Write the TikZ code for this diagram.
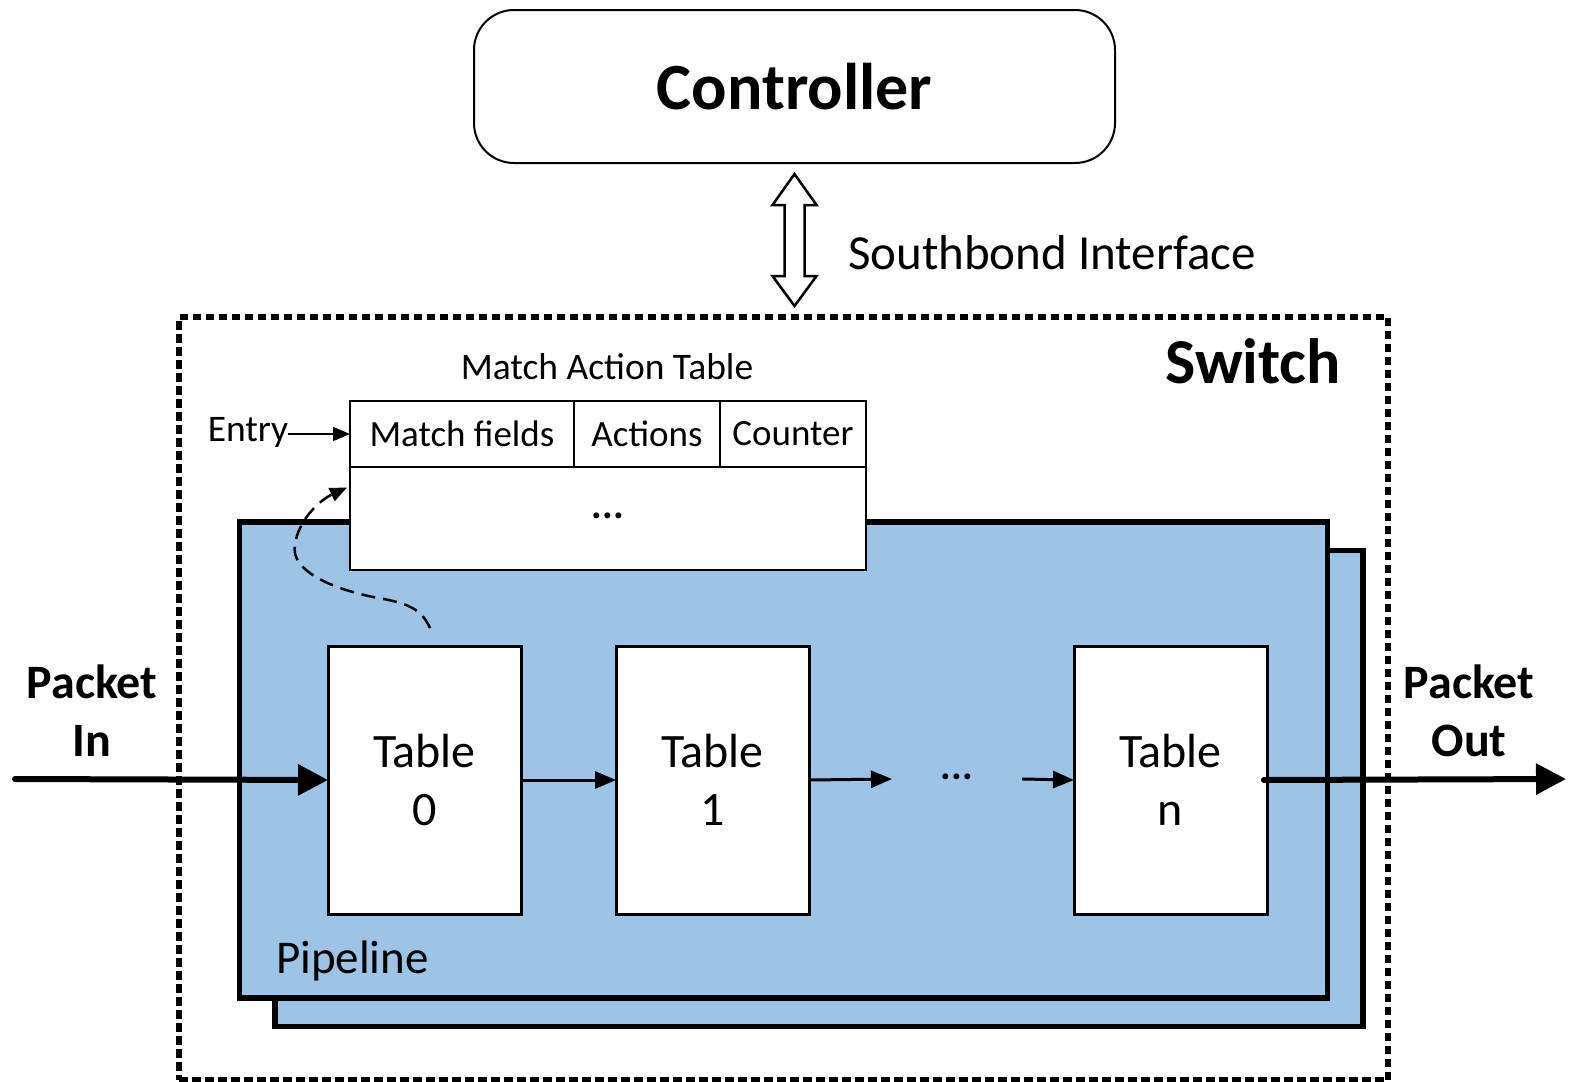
\documentclass[tikz,border=0pt]{standalone}
\usepackage{fontspec}
\setmainfont{Carlito}
\usetikzlibrary{arrows.meta,calc}

\definecolor{pipeblue}{HTML}{9DC3E6}

\begin{document}
\begin{tikzpicture}[x=1pt,y=-1pt,
  every node/.style={inner sep=0pt, outer sep=0pt},
  ctrlbox/.style={draw, line width=2pt, rounded corners=40pt, minimum width=641pt,
    minimum height=153pt, font=\fontsize{66}{80}\selectfont\bfseries},
  switchbox/.style={draw, line width=5.5pt, dash pattern=on 8.5pt off 4.5pt,
    minimum width=1209pt, minimum height=763pt},
  pipebox/.style={draw, fill=pipeblue, line width=5.5pt, minimum width=1088pt,
    minimum height=476pt},
  tablebox/.style={draw, fill=white, line width=3pt, minimum width=193pt,
    minimum height=268pt, align=center, font=\fontsize{48}{58}\selectfont},
  cell/.style={draw, fill=white, line width=2pt, font=\fontsize{37}{44}\selectfont},
  small/.style={font=\fontsize{37.5}{45}\selectfont},
  bigtext/.style={font=\fontsize{48}{58}\selectfont\bfseries, align=center},
  flow/.style={line width=3pt, -{Triangle[length=21pt,width=17pt]}},
  packet/.style={line width=6pt, line cap=round, -{Triangle[length=30pt,width=30pt]}},
  entryarrow/.style={line width=2pt, -{Triangle[length=17pt,width=14pt]}},
  lookup/.style={line width=2.5pt, dash pattern=on 14pt off 8pt,
    -{Triangle[length=17pt,width=14pt]}},
  sbarrow/.style={draw, fill=white, line width=2.5pt, line join=miter},
]
\useasboundingbox (0,0) rectangle (1575,1082);

% controller
\node[ctrlbox] (ctrl) at (794.5,86.5) {Controller};

% switch boundary
\node[switchbox] (sw) at (783.5,698.5) {};
\node[anchor=base east, font=\fontsize{64}{76}\selectfont\bfseries] (swlabel) at (1341,383) {Switch};

% southbound interface double arrow
\coordinate (sbtop) at ($(ctrl.south)+(0,11)$);
\coordinate (sbbot) at ($(ctrl.south |- sw.north)+(0,-11)$);
\draw[sbarrow] (sbtop) -- ($(sbtop)+(22,31)$) -- ($(sbtop)+(10,31)$)
  -- ($(sbbot)+(10,-30)$) -- ($(sbbot)+(22,-30)$) -- (sbbot)
  -- ($(sbbot)+(-22,-30)$) -- ($(sbbot)+(-10,-30)$)
  -- ($(sbtop)+(-10,31)$) -- ($(sbtop)+(-22,31)$) -- cycle;
\node[anchor=base west, font=\fontsize{49}{58}\selectfont] (sblabel) at (848,269) {Southbond Interface};

% pipeline stages (back copy, then front)
\node[pipebox] (pipeback) at (819,788.5) {};
\node[pipebox] (pipe) at (783.5,760) {};
\node[anchor=base west, font=\fontsize{47}{56}\selectfont] (pipelabel) at (276,973) {Pipeline};

% match action table
\node[cell, minimum width=224pt, minimum height=66pt] (mf) at (462,434) {Match fields};
\node[cell, minimum width=146pt, minimum height=66pt] (act) at (647,434) {Actions};
\node[cell, minimum width=146pt, minimum height=66pt] (cnt) at (793,434) {Counter};
\node[cell, minimum width=516pt, minimum height=103pt, font=\fontsize{40}{48}\selectfont\bfseries] (body) at (608,518.5) {\raisebox{6pt}{...}};
\node[small] (mattitle) at (607,367) {Match Action Table};
\node[small] (entry) at (248,432) {Entry};
\draw[entryarrow] (entry.east |- mf.west) -- (mf.west);

% tables
\node[tablebox] (t0) at (424.5,780) {Table\\0};
\node[tablebox] (t1) at (712.5,780) {Table\\1};
\node[tablebox] (tn) at (1170.5,780) {Table\\n};
\node[minimum width=130pt, minimum height=20pt, font=\fontsize{40}{48}\selectfont\bfseries] (dots) at (957,779) {\raisebox{4pt}{...}};

\draw[flow] (t0.east) -- (t1.west);
\draw[flow] (t1.east) -- (dots.west);
\draw[flow] (dots.east) -- (tn.west);

% table lookup
\coordinate (lk0) at ($(t0.north)+(5.5,-18)$);
\coordinate (lk1) at ($(body.west)+(-3,-31)$);
\draw[lookup] (lk0) .. controls (420,605) and (400,602) .. (373,597)
  .. controls (330,588) and (290,570) .. (295,545)
  .. controls (298,520) and (320,500) .. (lk1);

% packet in / out
\coordinate (pin) at (15,779);
\coordinate (pout) at (1566,779);
\draw[packet] (pin) -- (t0.west);
\draw[packet] ($(tn.east)+(-3,0)$) -- (pout);
\node[bigtext] (inlabel) at (92,711) {Packet\\In};
\node[bigtext] (outlabel) at (1469,711) {Packet\\Out};
\end{tikzpicture}
\end{document}
